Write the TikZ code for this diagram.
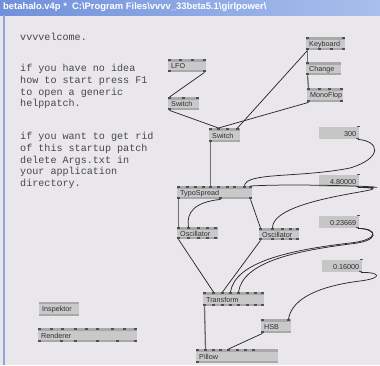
\documentclass[tikz,border=0pt]{standalone}
\usepackage{fontspec}
\setmainfont{Liberation Sans}
\newfontfamily\monofam{Liberation Mono}
\definecolor{bg}{HTML}{E9E7EB}
\definecolor{titleA}{HTML}{7090DA}
\definecolor{titleB}{HTML}{A9BFEC}
\definecolor{framec}{HTML}{8CA6E0}
\definecolor{boxfill}{HTML}{C9C9C9}
\definecolor{boxstrip}{HTML}{A9A9A9}
\definecolor{iofill}{HTML}{C6C6C6}
\definecolor{pinc}{HTML}{505050}
\definecolor{wirec}{HTML}{2A2A2A}
\definecolor{busc}{HTML}{6E6E6E}
\definecolor{txt}{HTML}{2E2E2E}
\definecolor{notec}{HTML}{464646}
\tikzset{
  vbox/.style={fill=boxfill, draw=none, inner sep=0pt, rectangle},
  iobox/.style={fill=iofill, draw=none, inner sep=0pt, rectangle},
  strip/.style={fill=boxstrip},
  pin/.style={fill=pinc},
  vlabel/.style={font=\fontsize{7.2}{8}\selectfont, text=txt, inner sep=0pt, anchor=west},
  wire/.style={draw=wirec, line width=0.75pt},
  bus/.style={draw=busc, line width=1.3pt},
  note/.style={font=\monofam\fontsize{10.1}{11.8}\selectfont, text=notec, inner sep=0pt, anchor=base west},
  titletext/.style={font=\bfseries\fontsize{9.4}{10}\selectfont, text=white, inner sep=0pt, anchor=west},
}
% patch node: name, x1, y1, x2, y2, label, top pin offsets, bottom pin offsets
\newcommand\vvnode[8]{%
  \node[vbox, anchor=north west, minimum width={(#4-#2)*1pt}, minimum height={(#5-#3)*1pt}] (#1) at (#2,#3) {};
  \fill[strip] (#1.north west) rectangle ([yshift=-2.5pt]#1.north east);
  \fill[strip] (#1.south west) rectangle ([yshift=2.5pt]#1.south east);
  \node[vlabel] (#1-txt) at ([xshift=3pt,yshift=-0.5pt]#1.west) {#6};
  \foreach \p [count=\i] in {#7} {
    \fill[pin] ([xshift=\p pt]#1.north west) rectangle +(3pt,-2pt);
    \coordinate (#1-t\i) at ([xshift=\p pt+1.5pt]#1.north west);
  }
  \foreach \p [count=\i] in {#8} {
    \fill[pin] ([xshift=\p pt]#1.south west) rectangle +(3pt,2pt);
    \coordinate (#1-b\i) at ([xshift=\p pt+1.5pt]#1.south west);
  }
}
% value box: name, x1, y1, x2, y2, value
\newcommand\vvio[6]{%
  \node[iobox, anchor=north west, minimum width={(#4-#2)*1pt}, minimum height={(#5-#3)*1pt}] (#1) at (#2,#3) {};
  \node[vlabel, anchor=east] (#1-txt) at ([xshift=-3pt,yshift=-0.5pt]#1.east) {#6};
  \fill[pin] ([xshift=-2.5pt,yshift=1pt]#1.north east) rectangle +(3pt,-1.2pt);
  \fill[pin] ([xshift=-3pt]#1.south east) rectangle +(3pt,1.5pt);
  \coordinate (#1-o) at ([xshift=-1.5pt]#1.south east);
}
\begin{document}
\begin{tikzpicture}[x=1pt,y=-1pt]
\useasboundingbox (0,0) rectangle (380,365);
\fill[bg] (0,0) rectangle (380,365);
% window title bar and frame
\shade[left color=titleA, right color=titleB] (0,0) rectangle (380,15);
\node[titletext] (title) at (3,7.5) {betahalo.v4p *\ \ C:\textbackslash Program Files\textbackslash vvvv\_33beta5.1\textbackslash girlpower\textbackslash};
\draw[framec, line width=1.2pt] (4,15) -- (4,365);

% comment text
\foreach \t/\y [count=\i] in {vvvvelcome./40.5, if you have no idea/71.5, how to start press F1/83.3, to open a generic/95.1, helppatch./106.9, if you want to get rid/139.5, of this startup patch/151.3, delete Args.txt in/163.1, your application/174.9, directory./186.7}
  \node[note] (note\i) at (20,\y) {\t};

% nodes
\vvnode{lfo}{168}{59}{206}{72}{LFO}{0,11,23,35}{0,35}
\vvnode{swa}{168}{97}{199}{110}{Switch}{0,14,28}{0}
\vvnode{key}{306}{37}{345}{50}{Keyboard}{0,36}{0,12,24,36}
\vvnode{chg}{306}{62}{341}{75}{Change}{0}{0}
\vvnode{mono}{307}{88}{343}{102}{MonoFlop}{0,11,21,33}{0,33}
\vvnode{swb}{209}{128}{240}{142}{Switch}{0,8,17,27}{0}
\vvnode{ts}{177}{186}{252}{199}{TypoSpread}{0,9,17,25,32,40,49,56,66,72}{0,42,72}
\vvnode{oscl}{177}{227}{218}{239}{Oscillator}{0,10,20,29,37}{0,10,20,29,37}
\vvnode{oscr}{259}{228}{299}{240}{Oscillator}{0,12,22,30,37}{0,12,22,30,37}
\vvnode{tr}{203}{292}{264}{306}{Transform}{0,9,18,26,34,43,51,58}{0,9,18,26,34,43,51,58}
\vvnode{hsb}{261}{319}{291}{333}{HSB}{0,26}{0}
\vvnode{pil}{196}{349}{278}{363}{Pillow}{0,8,16,23,31,40,48,56}{0}
\vvnode{ren}{38}{328}{137}{342}{Renderer}{0,12,23,36,47,58,73,85,96}{0,22,36,58,78,96}
\node[vbox, anchor=north west, minimum width=40pt, minimum height=14pt] (insp) at (39,302) {};
\fill[strip] (insp.north west) rectangle ([yshift=-2pt]insp.north east);
\fill[strip] (insp.south west) rectangle ([yshift=2pt]insp.south east);
\node[vlabel] (insp-txt) at ([xshift=3pt,yshift=-0.5pt]insp.west) {Inspektor};

\vvio{v300}{319}{127}{359}{139}{300}
\vvio{v480}{319}{175}{359}{187}{4.80000}
\vvio{v236}{319}{216}{359}{228}{0.23669}
\vvio{v160}{322}{260}{362}{272}{0.16000}

% connections
\draw[wire] (lfo-b2) -- (swa-t1);
\draw[wire] (swa-b1) -- (swb-t2);
\draw[wire] (mono-b1) -- (swb-t2);
\draw[wire] (key-b1) -- (swb-t4);
\draw[bus] (key-b1) -- (chg-t1);
\draw[bus] (chg-b1) -- (mono-t1);
\draw[bus] (swb-b1) -- (ts-t5);
\draw[wire] (v300-o) .. controls (380,141) and (383,158) .. (350,168) .. controls (300,178) and (245,172) .. (ts-t9);
\draw[wire] (v480-o) .. controls (420,188) and (300,183) .. (ts-t10);
\draw[wire] (v480-o) .. controls (420,189) and (272,195) .. (oscr-t2);
\draw[bus] (ts-b1) -- (oscl-t1);
\draw[wire] (ts-b2) .. controls (195,202) and (186,212) .. (oscl-t2);
\draw[wire] (ts-b3) -- (oscr-t1);
\draw[wire] (oscl-b1) -- (tr-t2);
\draw[wire] (oscr-b1) -- (tr-t3);
\draw[wire] (v236-o) .. controls (378,228) and (380,240) .. (350,243) .. controls (290,250) and (235,262) .. (tr-t4);
\draw[wire] (v236-o) .. controls (378,229) and (381,241) .. (350,244) .. controls (295,251) and (243,262) .. (tr-t5);
\draw[wire] (v160-o) .. controls (380,272) and (384,278) .. (360,281) .. controls (320,286) and (292,298) .. (hsb-t2);
\draw[wire] (hsb-b1) -- (pil-t5);
\draw[bus] (tr-b1) -- (pil-t2);
\end{tikzpicture}
\end{document}
